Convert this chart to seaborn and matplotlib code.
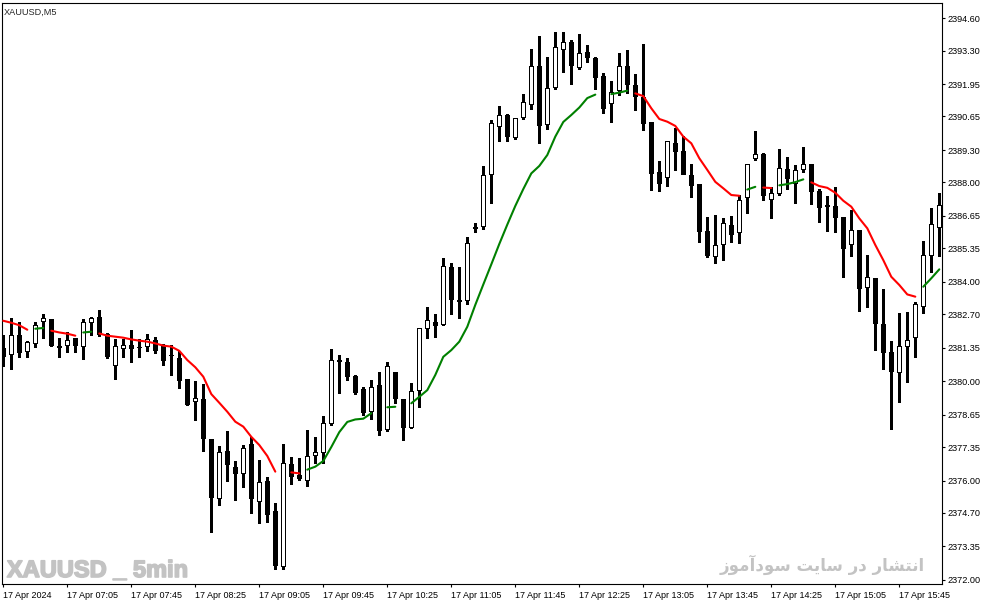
import numpy as np
import pandas as pd
import matplotlib
matplotlib.use("Agg")
import matplotlib.pyplot as plt
import matplotlib.patheffects as pe
import seaborn as sns

# XAUUSD M5 candles, 17 Apr 2024 06:25 .. 16:10
opens = [2381.32, 2381.04, 2381.84, 2381.16, 2381.48, 2382.37, 2382.49, 2381.40, 2381.40, 2381.72,
         2381.36, 2382.33, 2382.57, 2381.88, 2380.60, 2381.28, 2381.44, 2381.36, 2381.36, 2381.64,
         2381.46, 2381.05, 2380.93, 2380.09, 2379.15, 2379.28, 2377.67, 2375.24, 2377.19, 2376.54,
         2376.26, 2377.47, 2375.15, 2375.98, 2374.77, 2372.53, 2376.66, 2376.22, 2376.00, 2376.98,
         2377.10, 2378.27, 2380.84, 2380.76, 2380.19, 2379.67, 2378.77, 2379.83, 2378.04, 2380.35,
         2379.27, 2378.13, 2379.61, 2382.09, 2382.37, 2382.27, 2384.58, 2383.17, 2383.21, 2386.12,
         2386.19, 2388.28, 2390.21, 2390.70, 2389.77, 2390.58, 2391.10, 2392.67, 2390.29, 2391.78,
         2393.31, 2393.63, 2392.59, 2393.23, 2392.99, 2392.27, 2391.15, 2391.66, 2392.67, 2391.90,
         2391.45, 2390.43, 2388.40, 2388.16, 2389.58, 2389.25, 2388.31, 2387.93, 2386.03, 2384.98,
         2385.47, 2386.27, 2385.95, 2387.36, 2388.93, 2389.13, 2387.28, 2387.54, 2388.52, 2387.92,
         2388.48, 2388.73, 2387.64, 2387.08, 2387.04, 2386.60, 2385.47, 2386.08, 2383.74, 2384.14,
         2382.29, 2381.16, 2380.31, 2381.36, 2381.72, 2382.97, 2385.02, 2386.16]
highs = [2381.86, 2382.53, 2382.37, 2381.63, 2382.37, 2382.70, 2382.50, 2381.72, 2381.96, 2381.74,
         2382.49, 2382.57, 2382.86, 2381.92, 2381.68, 2381.68, 2382.04, 2381.68, 2381.88, 2381.76,
         2381.50, 2381.45, 2381.20, 2380.10, 2380.02, 2379.87, 2377.68, 2377.39, 2377.99, 2376.79,
         2377.42, 2377.75, 2376.83, 2376.14, 2375.10, 2377.47, 2376.95, 2376.92, 2378.03, 2377.74,
         2378.61, 2381.29, 2381.05, 2380.93, 2380.24, 2379.75, 2380.03, 2380.35, 2380.77, 2380.36,
         2379.28, 2379.91, 2382.13, 2382.97, 2382.69, 2384.94, 2384.74, 2384.58, 2385.79, 2386.38,
         2388.66, 2390.51, 2391.07, 2390.75, 2390.59, 2391.55, 2393.36, 2393.89, 2393.03, 2394.04,
         2394.04, 2393.73, 2393.96, 2393.53, 2393.03, 2392.39, 2392.07, 2393.19, 2393.31, 2392.35,
         2393.57, 2390.44, 2388.86, 2389.66, 2390.17, 2389.86, 2388.73, 2387.94, 2386.60, 2386.68,
         2386.58, 2386.63, 2387.48, 2388.74, 2390.05, 2389.17, 2387.81, 2389.34, 2389.01, 2388.68,
         2389.41, 2388.74, 2387.72, 2387.44, 2387.80, 2386.61, 2386.87, 2386.09, 2385.06, 2384.15,
         2383.70, 2381.61, 2382.74, 2382.78, 2383.20, 2385.63, 2386.95, 2387.56]
lows = [2380.62, 2380.48, 2380.98, 2380.96, 2381.38, 2381.72, 2381.41, 2380.96, 2381.18, 2381.16,
        2380.90, 2381.84, 2381.82, 2380.94, 2380.07, 2380.98, 2380.76, 2380.96, 2381.20, 2381.14,
        2380.64, 2380.23, 2379.71, 2379.03, 2378.44, 2377.20, 2373.92, 2375.03, 2375.99, 2375.23,
        2375.75, 2374.70, 2374.30, 2374.34, 2372.45, 2372.45, 2375.87, 2376.02, 2375.77, 2376.69,
        2376.69, 2378.25, 2379.53, 2380.03, 2379.49, 2378.65, 2378.49, 2377.84, 2378.00, 2379.13,
        2377.64, 2378.11, 2378.97, 2381.75, 2381.79, 2382.25, 2382.71, 2382.55, 2383.09, 2386.00,
        2386.14, 2387.16, 2389.67, 2389.67, 2389.73, 2390.54, 2390.94, 2389.57, 2390.13, 2391.76,
        2392.45, 2391.97, 2392.57, 2392.83, 2391.74, 2390.78, 2390.42, 2391.50, 2391.59, 2390.93,
        2390.09, 2387.70, 2387.66, 2387.86, 2388.51, 2388.44, 2387.43, 2385.61, 2385.00, 2384.76,
        2384.87, 2385.61, 2385.57, 2386.78, 2388.91, 2387.27, 2386.58, 2387.50, 2387.74, 2387.18,
        2388.40, 2387.14, 2386.40, 2386.05, 2385.99, 2384.20, 2385.05, 2382.83, 2382.99, 2381.26,
        2380.50, 2378.09, 2379.17, 2379.98, 2380.99, 2382.73, 2384.40, 2385.02]
closes = [2380.98, 2381.84, 2381.12, 2381.56, 2382.25, 2382.53, 2381.43, 2381.34, 2381.64, 2381.40,
          2382.37, 2382.53, 2381.84, 2380.96, 2381.40, 2381.44, 2381.28, 2381.36, 2381.68, 2381.22,
          2380.83, 2381.00, 2380.02, 2379.05, 2379.31, 2377.66, 2375.31, 2377.14, 2376.64, 2376.27,
          2377.31, 2375.27, 2375.93, 2374.62, 2372.57, 2376.69, 2376.15, 2376.05, 2376.99, 2377.14,
          2378.30, 2380.84, 2380.78, 2380.18, 2379.53, 2378.73, 2379.75, 2378.00, 2380.60, 2379.29,
          2378.13, 2379.59, 2382.12, 2382.45, 2382.23, 2384.62, 2383.25, 2383.25, 2385.55, 2386.20,
          2388.28, 2390.37, 2390.70, 2389.84, 2390.58, 2391.22, 2392.67, 2390.28, 2391.78, 2393.43,
          2393.63, 2392.67, 2393.19, 2392.99, 2392.19, 2390.94, 2391.62, 2392.67, 2391.90, 2391.45,
          2390.36, 2388.35, 2387.94, 2389.65, 2389.23, 2388.30, 2387.86, 2386.01, 2385.02, 2385.47,
          2386.36, 2385.89, 2387.28, 2388.73, 2389.13, 2387.44, 2387.56, 2388.56, 2388.15, 2388.48,
          2388.73, 2387.60, 2386.98, 2387.02, 2386.58, 2385.30, 2386.07, 2383.70, 2384.18, 2382.29,
          2381.12, 2380.35, 2381.43, 2381.64, 2383.09, 2385.06, 2386.31, 2387.08]

# moving average line and its colour state (G = rising/green, R = falling/red)
ma = [2382.43, 2382.35, 2382.25, 2382.07, 2382.11, 2382.14, 2382.03, 2381.96, 2381.91, 2381.83,
      2381.96, 2381.99, 2381.92, 2381.83, 2381.79, 2381.75, 2381.68, 2381.63, 2381.59, 2381.52,
      2381.43, 2381.39, 2381.22, 2380.85, 2380.56, 2380.18, 2379.48, 2379.13, 2378.77, 2378.37,
      2378.17, 2377.76, 2377.43, 2376.99, 2376.36, 2376.40, 2376.33, 2376.29, 2376.44, 2376.56,
      2376.79, 2377.35, 2377.95, 2378.36, 2378.46, 2378.49, 2378.71, 2378.66, 2378.95, 2378.97,
      2378.94, 2379.11, 2379.37, 2379.64, 2380.25, 2380.98, 2381.25, 2381.59, 2382.19, 2383.07,
      2383.89, 2384.70, 2385.52, 2386.30, 2387.05, 2387.73, 2388.36, 2388.66, 2389.10, 2389.84,
      2390.43, 2390.71, 2391.01, 2391.39, 2391.53, 2391.47, 2391.55, 2391.61, 2391.69, 2391.58,
      2391.47, 2390.98, 2390.55, 2390.44, 2390.27, 2389.84, 2389.57, 2388.97, 2388.50, 2388.02,
      2387.76, 2387.49, 2387.46, 2387.71, 2387.82, 2387.79, 2387.77, 2387.88, 2387.93, 2388.01,
      2388.12, 2388.00, 2387.85, 2387.78, 2387.58, 2387.26, 2387.02, 2386.55, 2386.15, 2385.48,
      2384.87, 2384.20, 2383.87, 2383.49, 2383.40, 2383.80, 2384.14, 2384.50]
trend = ("RRRRGGRRRRGG"
         "RRRRRRRRRRRRRRRRRRRRRRR"
         "GRRGGGGGGGGGRGGR"
         "GGGGGGGGGGGGGGGGGGGGGGGG"
         "RGGG"
         "RRRRRRRRRRRRRR"
         "GGRRGGGG"
         "RRRRRRRRRRRRRR"
         "GGG")

price_labels = ["2394.60", "2393.30", "2391.95", "2390.65", "2389.30", "2388.00",
                "2386.65", "2385.35", "2384.00", "2382.70", "2381.35", "2380.00",
                "2378.65", "2377.35", "2376.00", "2374.70", "2373.35", "2372.00"]
time_labels = ["17 Apr 2024", "17 Apr 07:05", "17 Apr 07:45", "17 Apr 08:25",
               "17 Apr 09:05", "17 Apr 09:45", "17 Apr 10:25", "17 Apr 11:05",
               "17 Apr 11:45", "17 Apr 12:25", "17 Apr 13:05", "17 Apr 13:45",
               "17 Apr 14:25", "17 Apr 15:05", "17 Apr 15:45"]
time_ticks = [0, 8, 16, 24, 32, 40, 48, 56, 64, 72, 80, 88, 96, 104, 112]

sns.set_style("ticks")
plt.rcParams["font.family"] = ["Liberation Sans", "DejaVu Sans"]

W, H = 987, 605
YMIN, YMAX = 2371.839, 2395.216
px = (YMAX - YMIN) / 581  # one screen pixel in price units

df = pd.DataFrame({"bar": np.arange(len(opens)), "open": opens, "high": highs,
                   "low": lows, "close": closes})
df["body"] = df["close"] - df["open"]
# at least one pixel tall so doji bars still show a line
df["outer"] = df["body"].where(df["body"].abs() >= px, -px)
bull = df["close"] >= df["open"]
hollow = df[bull & (df["body"] > 2 * px)]

ma_df = pd.DataFrame({"bar": df["bar"], "ma": ma, "trend": list(trend)})
ma_df["seg"] = (ma_df["trend"] != ma_df["trend"].shift()).cumsum()

fig = plt.figure(figsize=(W / 100, H / 100), dpi=100)
ax = fig.add_axes([2 / W, 21 / H, 939.7 / W, 581 / H])

# candles: wick, black body, white core for up bars
ax.vlines(df["bar"], df["low"], df["high"], color="black", linewidth=0.75,
          zorder=1, antialiased=False)
ax.bar(df["bar"], df["outer"], bottom=df["open"], width=0.6, color="black",
       linewidth=0, zorder=2, antialiased=False)
ax.bar(hollow["bar"], hollow["body"] - 2 * px, bottom=hollow["open"] + px, width=0.34,
       color="white", linewidth=0, zorder=2.5, antialiased=False)

# moving average, broken where the colour flips
sns.lineplot(data=ma_df, x="bar", y="ma", hue="trend", units="seg", estimator=None,
             palette={"G": "#008000", "R": "#ff0000"}, linewidth=1.5, legend=False,
             sort=False, ax=ax, zorder=3)

ax.set_xlim((2 - 3.3) / 8, (941.7 - 3.3) / 8)
ax.set_ylim(YMIN, YMAX)
ax.set_xlabel("")
ax.set_ylabel("")

ax.yaxis.tick_right()
ax.set_yticks([float(s) for s in price_labels])
ax.set_yticklabels(price_labels)
ax.set_xticks(time_ticks)
ax.set_xticklabels(time_labels, ha="left")
ax.tick_params(axis="y", which="both", right=True, left=False, labelright=True,
               labelleft=False, direction="out", length=2.5, width=0.8, pad=2,
               labelsize=6.6, colors="black")
ax.tick_params(axis="x", direction="out", length=2.5, width=0.8, pad=2.5,
               labelsize=6.5, colors="black")
for s in ax.spines.values():
    s.set_visible(True)
    s.set_color("black")
    s.set_linewidth(0.8)

fig.text(4 / W, 1 - 12 / H, "XAUUSD,M5", fontsize=6.6, ha="left", va="center")

wm = fig.text(7 / W, 1 - 577 / H, "XAUUSD _ 5min", family=["Liberation Sans"],
              fontsize=17, fontweight="bold", color="#c3c3c3", ha="left",
              va="baseline", zorder=0)
wm.set_path_effects([pe.withStroke(linewidth=1.2, foreground="#c3c3c3")])

# "انتشار در سایت سودآموز" in Arabic presentation forms, visual order
fa_text = ("\uFEAF\uFEEE\uFEE3\uFE81\uFEA9\uFEEE\uFEB3 \uFE96\uFBFE\uFE8E\uFEB3 "
           "\uFEAD\uFEA9 \uFEAD\uFE8E\uFEB8\uFE98\uFEE7\uFE8D")
fig.text(925 / W, 1 - 565 / H, fa_text, family=["DejaVu Sans"], fontsize=12,
         fontweight="bold", color="#c3c3c3", ha="right", va="center", zorder=0)

fig.savefig("out.png", dpi=100, facecolor="white")
